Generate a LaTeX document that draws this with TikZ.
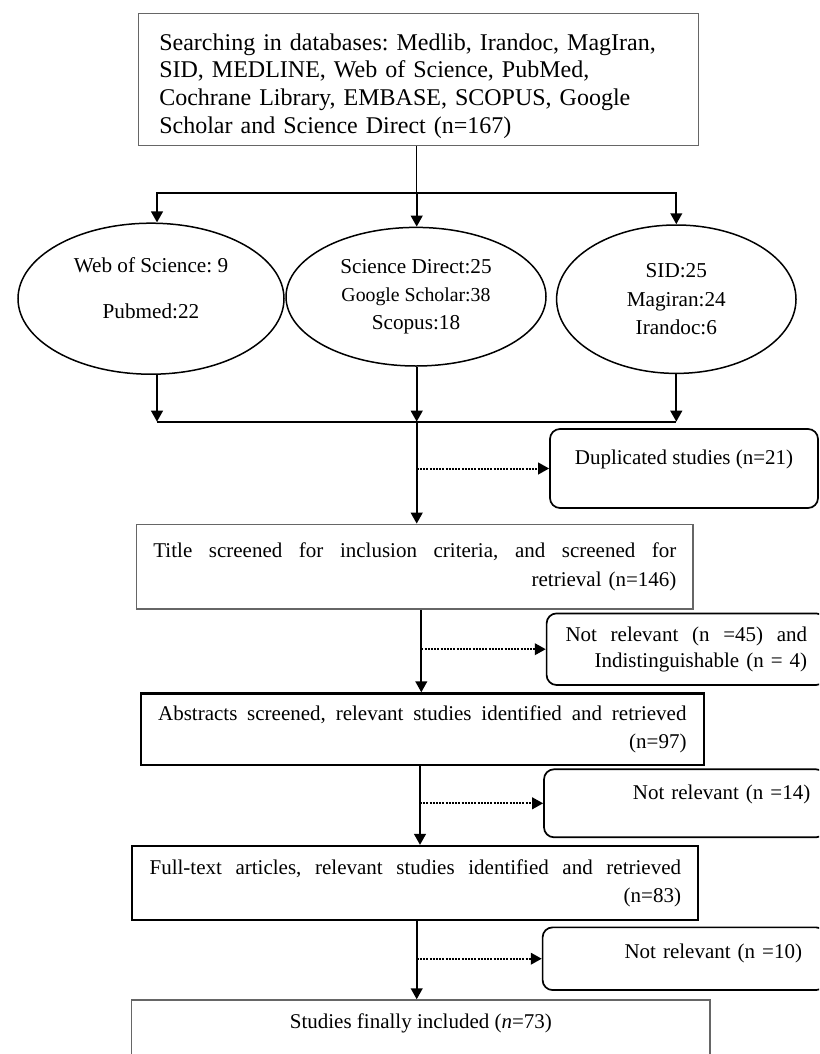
\documentclass[tikz,border=0pt]{standalone}
\usepackage{fontspec}
\setmainfont{Liberation Serif}
\usetikzlibrary{arrows.meta,shapes.geometric,positioning}
\tikzset{
    box/.style={
    rectangle,draw=black,line width=1.1pt,inner sep=0pt,font=\fontsize{10.5}{13.7}\selectfont
    },
    gbox/.style={
    box,draw=black!60,line width=0.7pt
    },
    side/.style={
    rectangle,rounded corners=5pt,draw=black,line width=0.85pt,inner sep=0pt,font=\fontsize{10.5}{13}\selectfont,text height=7.5pt
    },
    source/.style={
    ellipse,draw=black,line width=0.75pt,inner sep=0pt,align=center,font=\fontsize{10.6}{14.2}\selectfont
    },
    flow/.style={
    line width=1.1pt,-{Triangle[length=5.5pt,width=5.8pt]}
    },
    skip/.style={
    line width=1pt,dash pattern=on 1pt off 0.6pt,-{Triangle[length=5.5pt,width=5.8pt]}
    },
}
\begin{document}
\frenchspacing
\begin{tikzpicture}[x=0.5pt,y=-0.5pt]
   \useasboundingbox (0,0) rectangle (819,1054);
   \clip (0,0) rectangle (819,1054);

   \node[gbox,minimum width=280pt,minimum height=66.2pt,text width=259pt,align=left,text height=14.8pt,font=\fontsize{12}{13.9}\selectfont] (search) at (418.3,79.5) {Searching in databases: Medlib, Irandoc, MagIran,\\ SID, MEDLINE, Web of Science, PubMed,\\ Cochrane Library, EMBASE, SCOPUS, Google\\ Scholar and Science Direct (n=167)};

   \node[source,minimum width=133pt,minimum height=75.5pt,text depth=10.3pt] (wos) at (151,298.7) {Web of Science: 9\\[8.8pt]Pubmed:22};
   \node[source,minimum width=130pt,minimum height=69.3pt] (sd) at (416,296.7) {Science Direct:25\\{\fontsize{9.9}{14.2}\selectfont Google Scholar:38}\\Scopus:18};
   \node[source,minimum width=119.7pt,minimum height=74.2pt] (sid) at (676.3,299.2) {SID:25\\Magiran:24\\Irandoc:6};

   \coordinate (split) at (416.7,193.3);
   \coordinate (merge) at (416.7,421.7);
   \coordinate (wx) at (157,0);
   \coordinate (s2) at (421.3,0);
   \coordinate (s3) at (420,0);
   \coordinate (s4) at (416.7,0);

   \node[gbox,minimum width=278.2pt,minimum height=42.35pt,text width=261.5pt,align=right,font=\fontsize{10.5}{14.15}\selectfont] (title) at (414.9,566.7) {\hbox to 261.5pt{Title \hfill screened \hfill for \hfill inclusion \hfill criteria, \hfill and \hfill screened \hfill for}\\ retrieval (n=146)};
   \node[side,minimum width=134pt,minimum height=39.5pt,text depth=11.9pt] (dup) at (684,468.5) {Duplicated studies (n=21)};

   \node[box,minimum width=281.7pt,minimum height=35.8pt,text width=264.2pt,align=right] (abs) at (422.3,729.2) {\hbox to 264.2pt{Abstracts \hfill screened, \hfill relevant \hfill studies \hfill identified \hfill and \hfill retrieved}\\ (n=97)};
   \node[side,minimum width=139.7pt,minimum height=35.8pt,text width=120.8pt,align=right] (nr45) at (686.3,649.2) {\hbox to 120.8pt{Not \hfill relevant \hfill (n \hfill =45) \hfill and}\\ Indistinguishable (n = 4)};

   \node[box,minimum width=283pt,minimum height=37pt,text width=265.7pt,align=right,font=\fontsize{10.5}{14.1}\selectfont] (full) at (415.3,883) {\hbox to 265.7pt{Full-text \hfill articles, \hfill relevant \hfill studies \hfill identified \hfill and \hfill retrieved}\\ (n=83)};
   \node[side,minimum width=141pt,minimum height=34pt,text width=125.3pt,align=right,text depth=11.1pt] (nr14) at (685,803.3) {Not relevant (n =14)};

   \node[gbox,minimum width=289.2pt,minimum height=35pt,text height=7.5pt,text depth=14.4pt] (final) at (420.85,1035) {Studies finally included (\textit{n}=73)};
   \node[side,minimum width=141.7pt,minimum height=31.35pt,text width=117.7pt,align=right,text depth=8.1pt] (nr10) at (684.3,958.7) {Not relevant (n =10)};

   \draw[line width=0.7pt] (search.south -| split) -- (split);
   \draw[line width=1.1pt] (wx |- split) -- (sid.north |- split);
   \draw[flow] (split) -| (wx |- wos.north);
   \draw[flow] (split) -- (split |- sd.north);
   \draw[flow] (split) -| (sid.north);

   \draw[flow] (wx |- wos.south) -- (wx |- merge);
   \draw[flow] (sd.south -| merge) -- (merge);
   \draw[flow] (sid.south) -- (sid.south |- merge);
   \draw[line width=1.1pt] (wx |- merge) -- (sid.south |- merge);

   \draw[flow] (merge) -- (merge |- title.north);
   \draw[skip] (merge |- dup.west) -- (dup.west);
   \draw[flow] (title.south -| s2) -- (abs.north -| s2);
   \draw[skip] (s2 |- nr45.west) -- (nr45.west);
   \draw[flow] (abs.south -| s3) -- (full.north -| s3);
   \draw[skip] (s3 |- nr14.west) -- (nr14.west);
   \draw[flow] (full.south -| s4) -- (final.north -| s4);
   \draw[skip] (s4 |- nr10.west) -- (nr10.west);
\end{tikzpicture}
\end{document}
